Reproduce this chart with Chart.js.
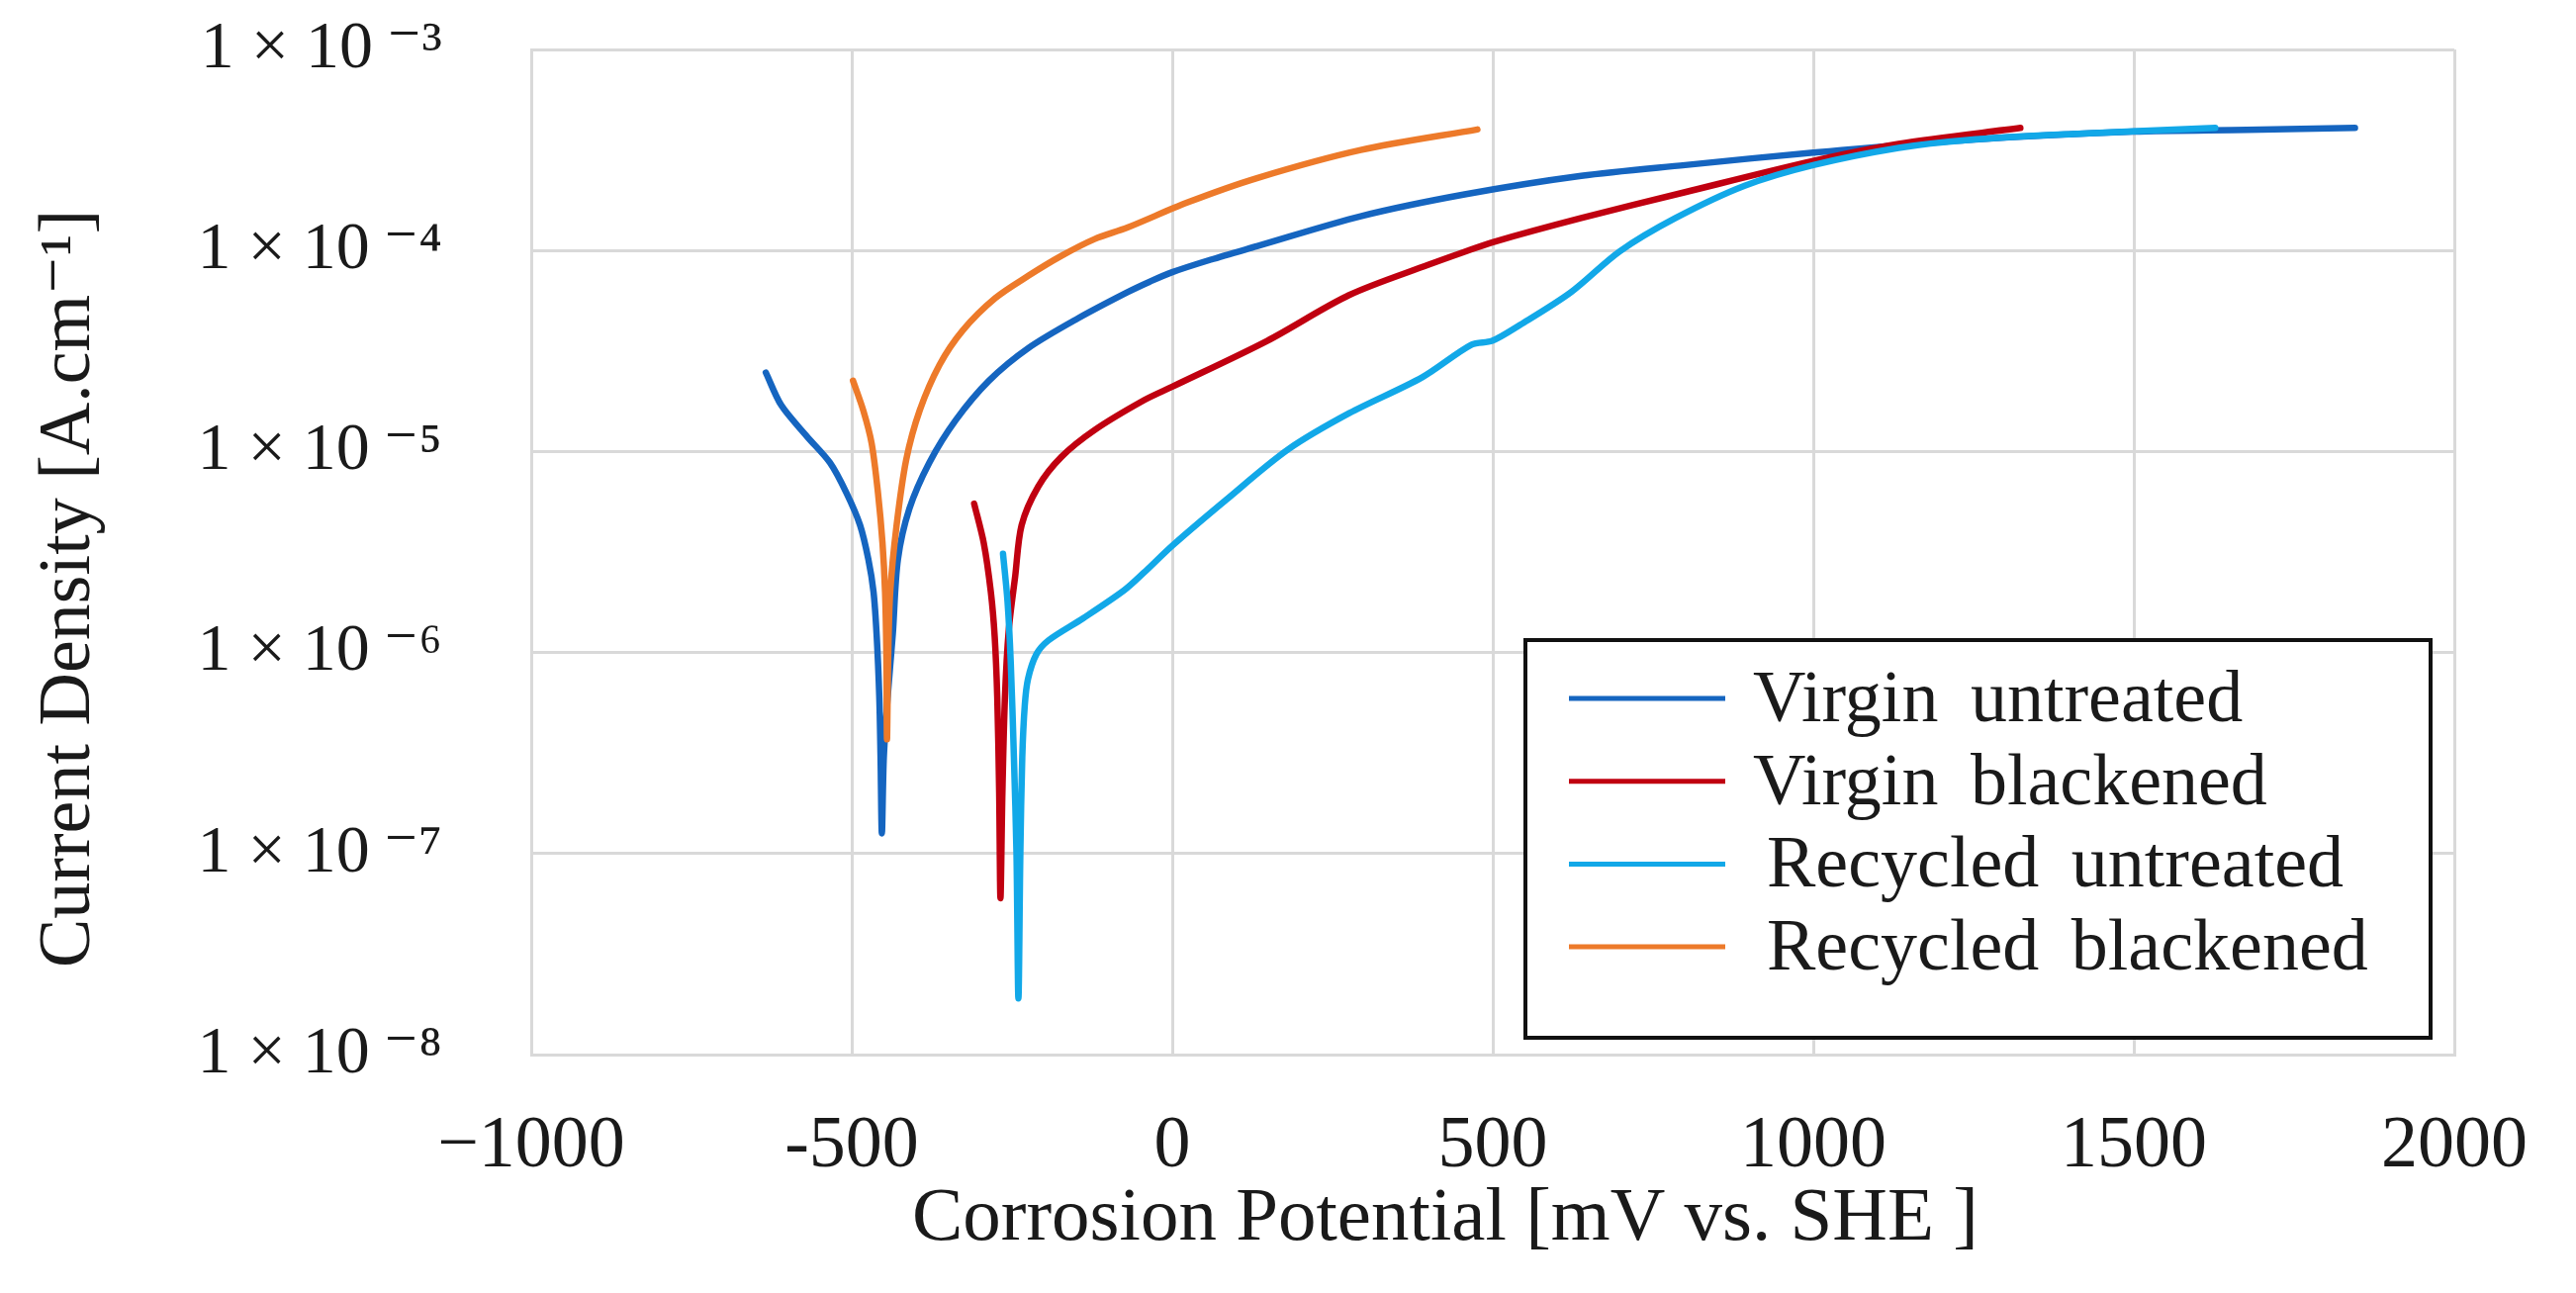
<!DOCTYPE html>
<html>
<head>
<meta charset="utf-8">
<script src="https://cdn.jsdelivr.net/npm/chart.js@4.4.1/dist/chart.umd.min.js"></script>
<style>
  html, body { margin: 0; padding: 0; background: #fff; }
  #wrap { width: 2604px; height: 1307px; }
</style>
</head>
<body>
<div id="wrap"><canvas id="chart"></canvas></div>
<script>
// potential in mV vs. SHE, current density in A.cm-1
const virginUntreatedE = [-634, -610, -570, -534, -508, -487, -474, -466, -461, -457, -455, -453, -450, -444, -436, -428, -410, -379, -338, -286, -224, -147, -70, -35, 0, 60, 132, 294, 456, 638, 800, 1000, 1241, 1500, 1676, 1845];
const virginUntreatedI = [2.47e-5, 1.7e-5, 1.19e-5, 8.8e-6, 6.2e-6, 4.3e-6, 2.9e-6, 2.0e-6, 1.2e-6, 6e-7, 3e-7, 1.26e-7, 3e-7, 6e-7, 1.23e-6, 2.9e-6, 5.2e-6, 8.8e-6, 1.43e-5, 2.25e-5, 3.28e-5, 4.6e-5, 6.2e-5, 7.0e-5, 7.8e-5, 9.0e-5, 1.05e-4, 1.48e-4, 1.9e-4, 2.35e-4, 2.66e-4, 3.07e-4, 3.55e-4, 3.9e-4, 3.98e-4, 4.07e-4];

const virginBlackenedE = [-309, -294, -283, -277, -273, -270, -268, -265, -261, -255, -245, -235, -209, -173, -121, -44, 0, 148, 276, 400, 454, 500, 638, 800, 1000, 1133, 1323];
const virginBlackenedI = [5.5e-6, 3.5e-6, 2.0e-6, 1.2e-6, 6e-7, 2e-7, 6e-8, 2e-7, 6e-7, 1.3e-6, 2.4e-6, 4.3e-6, 6.7e-6, 9.4e-6, 1.28e-5, 1.8e-5, 2.1e-5, 3.55e-5, 6.0e-5, 8.5e-5, 9.8e-5, 1.1e-4, 1.45e-4, 1.95e-4, 2.79e-4, 3.39e-4, 4.07e-4];

const recycledUntreatedE = [-264, -257, -252, -247, -243, -240, -237, -234, -230, -225, -212, -193, -139, -75, -44, 0, 84, 180, 276, 390, 467, 499, 543, 622, 698, 785, 893, 1000, 1133, 1241, 1404, 1627];
const recycledUntreatedI = [3.1e-6, 1.8e-6, 9e-7, 3e-7, 1e-7, 1.9e-8, 1e-7, 3e-7, 5.5e-7, 7.4e-7, 9.8e-7, 1.15e-6, 1.48e-6, 2.04e-6, 2.5e-6, 3.4e-6, 5.75e-6, 1.02e-5, 1.55e-5, 2.34e-5, 3.4e-5, 3.55e-5, 4.27e-5, 6.2e-5, 9.9e-5, 1.45e-4, 2.1e-4, 2.66e-4, 3.24e-4, 3.55e-4, 3.8e-4, 4.07e-4];

const recycledBlackenedE = [-498, -482, -469, -459, -452, -448, -446, -445, -443, -440, -430, -415, -394, -363, -327, -276, -224, -173, -121, -70, 23, 132, 294, 476];
const recycledBlackenedI = [2.25e-5, 1.6e-5, 1.1e-5, 6.2e-6, 3.5e-6, 2.0e-6, 1.0e-6, 3.7e-7, 1.0e-6, 2.0e-6, 4.3e-6, 9.1e-6, 1.6e-5, 2.7e-5, 4.0e-5, 5.8e-5, 7.5e-5, 9.4e-5, 1.14e-4, 1.3e-4, 1.73e-4, 2.29e-4, 3.16e-4, 4.0e-4];

const seriesLabels = ['Virgin untreated', 'Virgin blackened', ' Recycled untreated', ' Recycled blackened'];
const seriesColors = ['#1565c0', '#c00010', '#12a8e8', '#ed7a2a'];
const xTicks = [-1000, -500, 0, 500, 1000, 1500, 2000];
const yTicks = [1e-8, 1e-7, 1e-6, 1e-5, 1e-4, 1e-3];

const serif = '"Liberation Serif", "DejaVu Serif", serif';
const sup = { '-': '⁻', '0': '⁰', '1': '¹', '2': '²', '3': '³', '4': '⁴', '5': '⁵', '6': '⁶', '7': '⁷', '8': '⁸', '9': '⁹' };
const toSup = s => String(s).split('').map(c => sup[c]).join('');

const pairs = (xs, ys) => xs.map((x, i) => ({ x: x, y: ys[i] }));
const allSeries = [
    pairs(virginUntreatedE, virginUntreatedI),
    pairs(virginBlackenedE, virginBlackenedI),
    pairs(recycledUntreatedE, recycledUntreatedI),
    pairs(recycledBlackenedE, recycledBlackenedI)
];
// orange on top, dark blue at the bottom
const drawOrder = [3, 2, 1, 0];

// legend drawn inside the plot, bottom right
const legendBox = {
    id: 'legendBox',
    afterDatasetsDraw(chart) {
        const { ctx, chartArea } = chart;
        const w = 915, h = 402;
        const x0 = chartArea.right - 24 - w;
        const y0 = chartArea.bottom - 17 - h;
        ctx.save();
        ctx.fillStyle = '#fff';
        ctx.fillRect(x0, y0, w, h);
        ctx.lineWidth = 4;
        ctx.strokeStyle = '#111';
        ctx.strokeRect(x0, y0, w, h);
        ctx.font = '74px ' + serif;
        ctx.wordSpacing = '14px';
        ctx.textBaseline = 'alphabetic';
        ctx.textAlign = 'left';
        chart.data.datasets.forEach((ds, i) => {
            const ly = y0 + 59 + i * 83.7;
            ctx.strokeStyle = ds.borderColor;
            ctx.lineWidth = 5;
            ctx.beginPath();
            ctx.moveTo(x0 + 44, ly);
            ctx.lineTo(x0 + 202, ly);
            ctx.stroke();
            ctx.fillStyle = '#1a1a1a';
            const lead = ds.label.startsWith(' ') ? 14 : 0;
            ctx.fillText(ds.label.trimStart(), x0 + 230 + lead, ly + 23);
        });
        ctx.restore();
    }
};

new Chart(document.getElementById('chart'), {
    type: 'scatter',
    data: {
        datasets: allSeries.map((pts, i) => ({
            label: seriesLabels[i],
            data: pts,
            showLine: true,
            borderColor: seriesColors[i],
            backgroundColor: seriesColors[i],
            borderWidth: 6.5,
            borderCapStyle: 'round',
            borderJoinStyle: 'round',
            pointRadius: 0,
            tension: 0.3,
            order: drawOrder[i]
        }))
    },
    options: {
        responsive: true, maintainAspectRatio: false,
        animation: false,
        devicePixelRatio: 1,
        layout: { padding: { left: 10, top: 50, right: 121, bottom: 0 } },
        plugins: { legend: { display: false }, tooltip: { enabled: false } },
        scales: {
            x: {
                type: 'linear',
                min: -1000, max: 2000,
                afterBuildTicks: s => { s.ticks = xTicks.map(v => ({ value: v })); },
                afterFit: s => { s.height = 241; },
                grid: { color: '#d9d9d9', lineWidth: 3, drawTicks: false },
                border: { color: '#d9d9d9', width: 3 },
                ticks: {
                    padding: 49,
                    color: '#1a1a1a',
                    font: { family: serif, size: 74 },
                    maxRotation: 0,
                    callback: v => v === -1000 ? '−1000' : String(v)
                },
                title: {
                    display: true,
                    text: 'Corrosion Potential [mV vs. SHE ]     ',
                    color: '#1a1a1a',
                    font: { family: serif, size: 77 },
                    padding: { top: 0, bottom: 28 }
                }
            },
            y: {
                type: 'logarithmic',
                min: 1e-8, max: 1e-3,
                afterBuildTicks: s => { s.ticks = yTicks.map(v => ({ value: v })); },
                afterFit: s => { s.width = 527; s.paddingTop = 40; s.paddingBottom = 40; },
                grid: { color: '#d9d9d9', lineWidth: 3, drawTicks: false },
                border: { color: '#d9d9d9', width: 3 },
                ticks: {
                    padding: 90,
                    color: '#1a1a1a',
                    font: { family: serif, size: 68 },
                    callback: v => '1 × 10\u2009' + toSup(Math.round(Math.log10(v)))
                },
                title: {
                    display: true,
                    text: 'Current Density [A.cm⁻¹]    ',
                    color: '#1a1a1a',
                    font: { family: serif, size: 74 },
                    padding: { top: 16, bottom: 0 }
                }
            }
        }
    },
    plugins: [legendBox]
});
</script>
</body>
</html>
